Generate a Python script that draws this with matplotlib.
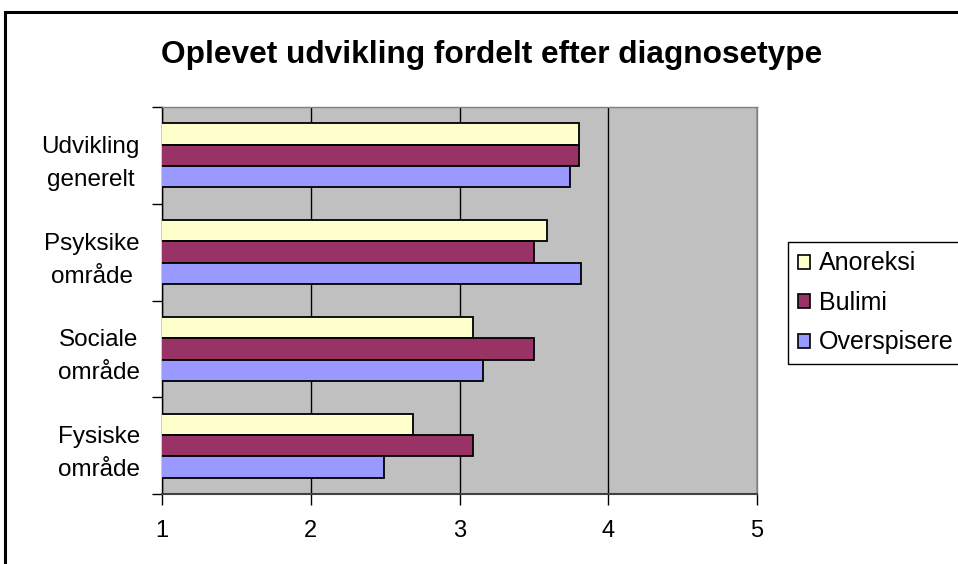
import numpy as np
import matplotlib
matplotlib.use("Agg")
import matplotlib.pyplot as plt
from matplotlib.patches import Patch, Rectangle

plt.rcParams['font.family'] = ['Liberation Sans', 'DejaVu Sans']

# data
kategorier = ["Udvikling\ngenerelt", "Psyksike\nområde", "Sociale\nområde", "Fysiske\nområde"]
anoreksi = [3.80, 3.59, 3.09, 2.69]
bulimi = [3.80, 3.50, 3.50, 3.09]
overspisere = [3.74, 3.82, 3.16, 2.49]
serier = ["Anoreksi", "Bulimi", "Overspisere"]
farver = ["#FFFFCC", "#993366", "#9999FF"]

W, H = 958, 564
fig = plt.figure(figsize=(W / 100, H / 100), dpi=100)
ax = fig.add_axes([162 / W, 70 / H, 595 / W, 387 / H])
ax.set_facecolor("#C0C0C0")

n = len(kategorier)
y = np.arange(n)[::-1]  # top category first
h = 0.22
for i, (vals, farve) in enumerate(zip([anoreksi, bulimi, overspisere], farver)):
    ax.barh(y + h * (1 - i), vals, height=h, color=farve,
            edgecolor="black", linewidth=1.3, zorder=3)

ax.set_xlim(1, 5)
ax.set_ylim(-0.5, n - 0.5)
ax.set_xticks([1, 2, 3, 4, 5])
ax.xaxis.grid(True, color="black", linewidth=1)
ax.set_axisbelow(True)

ax.set_yticks(y)
ax.set_yticklabels(kategorier)
ax.set_yticks(np.arange(-0.5, n), minor=True)
ax.tick_params(axis="y", which="major", length=0, pad=16, labelsize=17.5)
ax.tick_params(axis="y", which="minor", length=7, width=1, color="black")
ax.tick_params(axis="x", length=8, width=1, pad=11, labelsize=17)
for lab in ax.get_yticklabels():
    lab.set_multialignment("center")
    lab.set_linespacing(1.65)

ax.spines["left"].set_color("black")
ax.spines["left"].set_linewidth(1)
ax.spines["bottom"].set_color("#404040")
ax.spines["bottom"].set_linewidth(1.5)
for s in ["top", "right"]:
    ax.spines[s].set_color("#808080")
    ax.spines[s].set_linewidth(1)

fig.text(492 / W, 1 - 63 / H, "Oplevet udvikling fordelt efter diagnosetype",
         ha="center", va="baseline", fontsize=22.8, fontweight="bold")

handles = [Patch(facecolor=f, edgecolor="black", linewidth=1.2) for f in farver]
leg = fig.legend(handles, serier, loc="upper left",
                 bbox_to_anchor=(788 / W, 1 - 242 / H), borderaxespad=0,
                 fontsize=18, handlelength=0.5, handleheight=0.5,
                 handletextpad=0.35, labelspacing=0.62, borderpad=0.38,
                 fancybox=False, framealpha=1, edgecolor="black")
leg.get_frame().set_linewidth(1)

# outer chart frame (runs off the right and bottom edges)
fig.patches.append(Rectangle((5 / W, -0.5), 2, 1.5 - 12 / H, transform=fig.transFigure,
                             fill=False, edgecolor="black", linewidth=2.2))

fig.savefig("out.png", dpi=100)
